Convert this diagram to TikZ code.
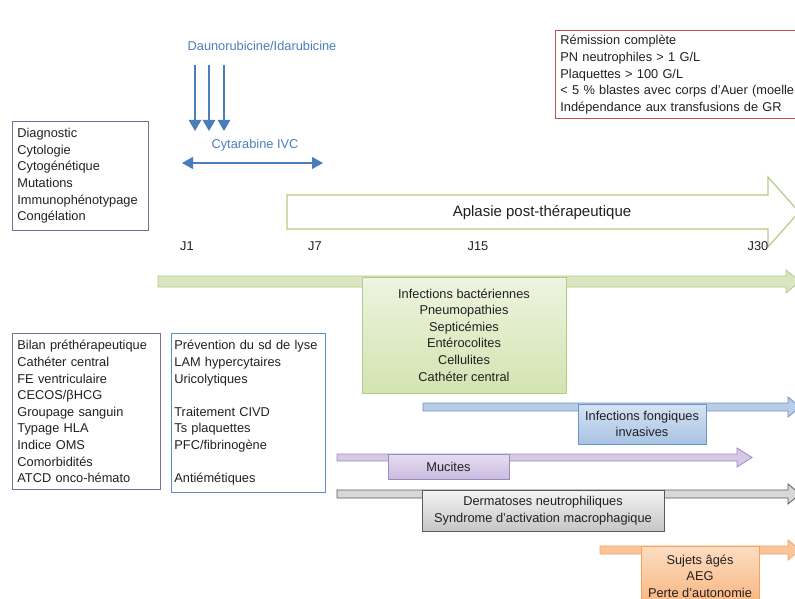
\documentclass[tikz,border=0pt]{standalone}
\usepackage{fontspec}
\setmainfont{Liberation Sans}
\usetikzlibrary{arrows.meta}

\definecolor{txt}{HTML}{231F20}
\definecolor{drug}{HTML}{4A7EBB}
\definecolor{listpu}{HTML}{7B6C98}
\definecolor{listbl}{HTML}{5B8DC8}
\definecolor{remred}{HTML}{C0504D}
\definecolor{grline}{HTML}{B3CB86}
\definecolor{grfill}{HTML}{D9E6BF}
\definecolor{grtop}{HTML}{EEF4E0}
\definecolor{grbot}{HTML}{D3E3B0}
\definecolor{blline}{HTML}{6C93C8}
\definecolor{blfill}{HTML}{B9CDE6}
\definecolor{bltop}{HTML}{D5E3F4}
\definecolor{blbot}{HTML}{A9C3E3}
\definecolor{puline}{HTML}{9F88C0}
\definecolor{pufill}{HTML}{D5C9E5}
\definecolor{putop}{HTML}{E5DDF0}
\definecolor{pubot}{HTML}{CBBCE0}
\definecolor{gyline}{HTML}{5A5A5A}
\definecolor{gyfill}{HTML}{D8D8D8}
\definecolor{gytop}{HTML}{F4F4F4}
\definecolor{gybot}{HTML}{C6C6C6}
\definecolor{orline}{HTML}{F2A15E}
\definecolor{orfill}{HTML}{FAC59A}
\definecolor{ortop}{HTML}{FCDDC3}
\definecolor{orbot}{HTML}{F8B57D}

\newcommand{\bodyfont}{\fontsize{12.8}{16.6}\selectfont}
\newcommand{\timebar}[8]{%
  \draw[line width=0.8pt, fill=#1, draw=#2] (#3,#5) -- (#4,#5) -- (#4,#5-#7)
    -- (#8,{(#5+#6)/2}) -- (#4,#6+#7) -- (#4,#6) -- (#3,#6) -- cycle;}

\tikzset{
  listbox/.style={draw, line width=0.8pt, anchor=north west, align=left,
    text=txt, font=\bodyfont, inner xsep=5, inner ysep=7},
  tagbox/.style={draw, line width=0.8pt, align=center, text=txt,
    font=\bodyfont, inner sep=0},
  drugtxt/.style={text=drug, font=\bodyfont},
  dose/.style={draw=drug, line width=1.2pt, -{Triangle[width=12.5pt,length=11pt]}},
  day/.style={text=txt, font=\bodyfont},
}

\begin{document}
\begin{tikzpicture}[x=1pt, y=-1pt]
\useasboundingbox (0,0) rectangle (795,599);
\clip (0,0) rectangle (795,599);

\node[drugtxt] (dauno) at (262,46) {Daunorubicine/Idarubicine};
\foreach \xx [count=\i] in {195,209,224} {
  \coordinate (top\i) at (\xx,65);
  \coordinate (dose\i) at (\xx,131);
  \draw[dose] (top\i) -- (dose\i);
}
\node[drugtxt] (cyta) at (255,145) {Cytarabine IVC};
\coordinate (cytstart) at (182,163);
\coordinate (cytend) at (323,163);
\draw[draw=drug, line width=1.2pt, {Triangle[width=12pt,length=11pt]}-{Triangle[width=12pt,length=11pt]}] (cytstart) -- (cytend);

\node[listbox, draw=listpu, text width=126] (diag) at (12,121)
  {Diagnostic\\Cytologie\\Cytogénétique\\Mutations\\Immunophénotypage\\Congélation};

\node[listbox, draw=remred, text width=250, inner ysep=5] (remission) at (555,30)
  {Rémission complète\\PN neutrophiles > 1 G/L\\Plaquettes > 100 G/L\\< 5 \% blastes avec corps d’Auer (moelle\\Indépendance aux transfusions de GR};

\draw[draw=grline, line width=1.2pt, fill=white] (287,195) -- (768,195) -- (768,177)
  -- (799,212) -- (768,247) -- (768,229) -- (287,229) -- cycle;
\node[text=txt, font=\fontsize{15}{18}\selectfont] (aplasie) at (542,213) {Aplasie post-thérapeutique};

\node[day] (j1) at (187,246) {J1};
\node[day] (j7) at (315,246) {J7};
\node[day] (j15) at (478,246) {J15};
\node[day] (j30) at (758,246) {J30};

\timebar{grfill}{grline}{158}{786}{276}{287}{6}{800}
\timebar{blfill}{blline}{423}{788}{403}{411}{6}{800}
\timebar{pufill}{puline}{337}{737}{454}{461}{6}{752}
\timebar{gyfill}{gyline}{337}{788}{490}{498}{6}{800}
\timebar{orfill}{orline}{600}{788}{546}{554}{6}{800}

\node[tagbox, draw=grline, top color=grtop, bottom color=grbot,
  minimum width=204, minimum height=116] (bact) at (464,335)
  {Infections bactériennes\\Pneumopathies\\Septicémies\\Entérocolites\\Cellulites\\Cathéter central};
\node[tagbox, draw=blline, top color=bltop, bottom color=blbot,
  minimum width=128, minimum height=40] (fong) at (642,424)
  {Infections fongiques\\invasives};
\node[tagbox, draw=puline, top color=putop, bottom color=pubot,
  minimum width=121, minimum height=25] (mucites) at (448.5,466.5) {Mucites};
\node[tagbox, draw=gyline, top color=gytop, bottom color=gybot,
  minimum width=242, minimum height=41] (dermato) at (543,510.5)
  {Dermatoses neutrophiliques\\Syndrome d’activation macrophagique};
\node[tagbox, draw=orline, top color=ortop, bottom color=orbot,
  minimum width=118, minimum height=60] (sujets) at (700,576)
  {Sujets âgés\\AEG\\Perte d’autonomie};

\node[listbox, draw=listpu, text width=138] (bilan) at (12,333)
  {Bilan préthérapeutique\\Cathéter central\\FE ventriculaire\\CECOS/βHCG\\Groupage sanguin\\Typage HLA\\Indice OMS\\Comorbidités\\ATCD onco-hémato};
\node[listbox, draw=listbl, text width=148, inner xsep=3] (prev) at (171,333)
  {Prévention du sd de lyse\\LAM hypercytaires\\Uricolytiques\\[16.6pt]Traitement CIVD\\Ts plaquettes\\PFC/fibrinogène\\[16.6pt]Antiémétiques};
\end{tikzpicture}
\end{document}
